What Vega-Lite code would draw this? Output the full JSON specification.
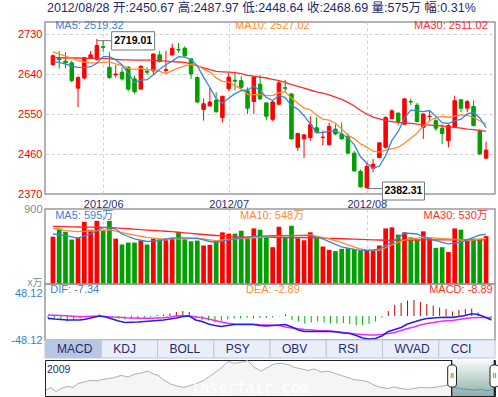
{
"$schema":"https://vega.github.io/schema/vega-lite/v6.json",
"padding":{"left":10,"top":1,"right":0,"bottom":1},
"background":"#ffffff",
"config":{
"font":"Liberation Sans, Noto Sans CJK SC",
"view":{"stroke":"#9a9a9a","strokeWidth":1.5},
"axis":{"domain":false,"ticks":false,"title":null,"labelFont":"Liberation Sans, Noto Sans CJK SC","labelFontSize":11,"labelPadding":3,"gridDash":[3,3],"gridColor":"#cfcfcf","gridWidth":1},
"text":{"font":"Liberation Sans, Noto Sans CJK SC"}
},
"datasets":{
"k":[
{"i":1,"o":2661,"h":2684,"l":2659,"c":2681,"v":568,"m5":2668,"m10":2690,"m30":2677,"vm5":600,"vm10":667,"vm30":691,"dif":-4.7,"dea":2,"hist":-5},
{"i":2,"o":2675,"h":2692,"l":2652,"c":2672,"v":667,"m5":2666,"m10":2685,"m30":2677,"vm5":590,"vm10":655,"vm30":690,"dif":-6,"dea":1.5,"hist":-5},
{"i":3,"o":2669,"h":2689,"l":2653,"c":2665,"v":628,"m5":2662,"m10":2680,"m30":2676,"vm5":580,"vm10":640,"vm30":688,"dif":-7,"dea":1,"hist":-6},
{"i":4,"o":2665,"h":2670,"l":2621,"c":2625,"v":533,"m5":2658,"m10":2675,"m30":2676,"vm5":565,"vm10":634,"vm30":686,"dif":-8,"dea":0.5,"hist":-11},
{"i":5,"o":2608,"h":2635,"l":2565,"c":2632,"v":560,"m5":2655,"m10":2670,"m30":2676,"vm5":550,"vm10":628,"vm30":684,"dif":-8,"dea":-0.5,"hist":-8},
{"i":6,"o":2631,"h":2678,"l":2628,"c":2677,"v":746,"m5":2654.2,"m10":2667,"m30":2675,"vm5":575,"vm10":632,"vm30":683,"dif":-8,"dea":-1.3,"hist":-5},
{"i":7,"o":2676,"h":2692,"l":2674,"c":2683,"v":651,"m5":2656.4,"m10":2665,"m30":2675,"vm5":600,"vm10":636,"vm30":682,"dif":-6,"dea":-1,"hist":-3},
{"i":8,"o":2673,"h":2719.01,"l":2670,"c":2704,"v":758,"m5":2664.2,"m10":2665,"m30":2675,"vm5":640,"vm10":640,"vm30":681,"dif":-3,"dea":-0.5,"hist":-2},
{"i":9,"o":2702,"h":2715,"l":2690,"c":2700,"v":639,"m5":2679.2,"m10":2666,"m30":2675,"vm5":679,"vm10":645,"vm30":680,"dif":0,"dea":0,"hist":3},
{"i":10,"o":2655,"h":2689,"l":2629,"c":2632,"v":758,"m5":2679.2,"m10":2667.1,"m30":2674,"vm5":670,"vm10":651,"vm30":679,"dif":-2,"dea":-1,"hist":-1},
{"i":11,"o":2638,"h":2660,"l":2632,"c":2640,"v":545,"m5":2671.8,"m10":2663,"m30":2673,"vm5":660,"vm10":635,"vm30":674,"dif":-6,"dea":-2,"hist":-3},
{"i":12,"o":2644,"h":2655,"l":2625,"c":2629,"v":474,"m5":2661,"m10":2658.7,"m30":2672,"vm5":600,"vm10":617,"vm30":668,"dif":-10,"dea":-2.7,"hist":-5},
{"i":13,"o":2655,"h":2658,"l":2602,"c":2606,"v":497,"m5":2641.4,"m10":2652.8,"m30":2672,"vm5":570,"vm10":600,"vm30":663,"dif":-13,"dea":-3.5,"hist":-7},
{"i":14,"o":2629,"h":2636,"l":2595,"c":2600,"v":497,"m5":2621.4,"m10":2650.3,"m30":2671,"vm5":541,"vm10":587,"vm30":658,"dif":-12.5,"dea":-4,"hist":-6},
{"i":15,"o":2606,"h":2660,"l":2605,"c":2657,"v":521,"m5":2626.4,"m10":2652.8,"m30":2671,"vm5":525,"vm10":573,"vm30":652,"dif":-12,"dea":-4.5,"hist":-5},
{"i":16,"o":2646,"h":2655,"l":2638,"c":2644,"v":474,"m5":2627.2,"m10":2649.5,"m30":2671,"vm5":510,"vm10":560,"vm30":647,"dif":-11,"dea":-4.7,"hist":-4},
{"i":17,"o":2647,"h":2686,"l":2638,"c":2685,"v":545,"m5":2638.4,"m10":2649.7,"m30":2671,"vm5":515,"vm10":550,"vm30":642,"dif":-10,"dea":-4.5,"hist":-2},
{"i":18,"o":2683,"h":2692,"l":2666,"c":2668,"v":537,"m5":2650.8,"m10":2646.1,"m30":2670,"vm5":521,"vm10":541,"vm30":638,"dif":-9,"dea":-4,"hist":2},
{"i":19,"o":2648,"h":2692,"l":2642,"c":2650,"v":525,"m5":2660.8,"m10":2641.1,"m30":2669,"vm5":537,"vm10":541,"vm30":633,"dif":-8,"dea":-3.3,"hist":3},
{"i":20,"o":2683,"h":2708,"l":2681,"c":2698,"v":553,"m5":2669,"m10":2647.7,"m30":2668,"vm5":553,"vm10":541,"vm30":628,"dif":-6,"dea":-2,"hist":5},
{"i":21,"o":2695,"h":2710,"l":2688,"c":2694,"v":624,"m5":2679,"m10":2653.1,"m30":2667,"vm5":553,"vm10":541,"vm30":621,"dif":-4,"dea":0,"hist":8},
{"i":22,"o":2698,"h":2702,"l":2678,"c":2681,"v":537,"m5":2678.2,"m10":2658.3,"m30":2666,"vm5":553,"vm10":541,"vm30":614,"dif":-1,"dea":0.7,"hist":10},
{"i":23,"o":2674,"h":2675,"l":2629,"c":2640,"v":513,"m5":2672.6,"m10":2661.7,"m30":2663,"vm5":550,"vm10":545,"vm30":607,"dif":0,"dea":0,"hist":8},
{"i":24,"o":2632,"h":2635,"l":2574,"c":2577,"v":521,"m5":2658,"m10":2659.4,"m30":2658,"vm5":547,"vm10":549,"vm30":600,"dif":-8,"dea":-1.5,"hist":-5},
{"i":25,"o":2560,"h":2585,"l":2535,"c":2573,"v":462,"m5":2633,"m10":2651,"m30":2654,"vm5":530,"vm10":540,"vm30":594,"dif":-11,"dea":-3.5,"hist":-8},
{"i":26,"o":2568,"h":2610,"l":2568,"c":2577,"v":470,"m5":2609.6,"m10":2644.3,"m30":2650,"vm5":510,"vm10":530,"vm30":588,"dif":-16,"dea":-6,"hist":-9},
{"i":27,"o":2581,"h":2599,"l":2553,"c":2555,"v":521,"m5":2584.4,"m10":2631.3,"m30":2646,"vm5":501,"vm10":521,"vm30":582,"dif":-19,"dea":-9,"hist":-13},
{"i":28,"o":2542,"h":2590,"l":2531,"c":2590,"v":620,"m5":2574.4,"m10":2623.5,"m30":2645,"vm5":515,"vm10":528,"vm30":577,"dif":-21,"dea":-12,"hist":-10},
{"i":29,"o":2607,"h":2642,"l":2602,"c":2633,"v":604,"m5":2585.6,"m10":2621.8,"m30":2644,"vm5":530,"vm10":535,"vm30":571,"dif":-19,"dea":-14.5,"hist":-7},
{"i":30,"o":2626,"h":2645,"l":2603,"c":2624,"v":604,"m5":2595.8,"m10":2614.4,"m30":2643,"vm5":541,"vm10":541,"vm30":565,"dif":-17,"dea":-16,"hist":-5},
{"i":31,"o":2625,"h":2635,"l":2602,"c":2610,"v":639,"m5":2602.4,"m10":2606,"m30":2641,"vm5":551,"vm10":546,"vm30":564,"dif":-17,"dea":-16.5,"hist":-5},
{"i":32,"o":2602,"h":2610,"l":2550,"c":2563,"v":560,"m5":2604,"m10":2594.2,"m30":2637,"vm5":562,"vm10":550,"vm30":563,"dif":-17,"dea":-16.5,"hist":-4},
{"i":33,"o":2578,"h":2635,"l":2550,"c":2633,"v":667,"m5":2612.6,"m10":2593.5,"m30":2635,"vm5":572,"vm10":555,"vm30":562,"dif":-17,"dea":-16.5,"hist":-5},
{"i":34,"o":2617,"h":2638,"l":2582,"c":2584,"v":651,"m5":2602.8,"m10":2594.2,"m30":2633,"vm5":575,"vm10":560,"vm30":562,"dif":-19,"dea":-17.5,"hist":-4},
{"i":35,"o":2575,"h":2576,"l":2536,"c":2545,"v":568,"m5":2587,"m10":2591.4,"m30":2631,"vm5":578,"vm10":565,"vm30":561,"dif":-20,"dea":-18,"hist":-4},
{"i":36,"o":2538,"h":2579,"l":2534,"c":2577,"v":442,"m5":2580.4,"m10":2591.4,"m30":2628,"vm5":580,"vm10":570,"vm30":560,"dif":-19,"dea":-18.5,"hist":-3},
{"i":37,"o":2572,"h":2625,"l":2570,"c":2620,"v":687,"m5":2591.8,"m10":2597.9,"m30":2625,"vm5":580,"vm10":575,"vm30":559,"dif":-18,"dea":-19,"hist":-1},
{"i":38,"o":2609,"h":2627,"l":2598,"c":2608,"v":560,"m5":2586.8,"m10":2599.7,"m30":2621,"vm5":580,"vm10":580,"vm30":558,"dif":-17,"dea":-22,"hist":3},
{"i":39,"o":2595,"h":2597,"l":2492,"c":2494,"v":699,"m5":2568.8,"m10":2585.8,"m30":2616,"vm5":580,"vm10":582,"vm30":557,"dif":-22,"dea":-24,"hist":-8},
{"i":40,"o":2475,"h":2508,"l":2467,"c":2506,"v":549,"m5":2561,"m10":2574,"m30":2612,"vm5":580,"vm10":584,"vm30":557,"dif":-28,"dea":-25.5,"hist":-11},
{"i":41,"o":2494,"h":2505,"l":2451,"c":2503,"v":525,"m5":2546.2,"m10":2563.3,"m30":2608,"vm5":580,"vm10":586,"vm30":556,"dif":-31,"dea":-27,"hist":-15},
{"i":42,"o":2497,"h":2545,"l":2490,"c":2526,"v":620,"m5":2527.4,"m10":2559.6,"m30":2604,"vm5":580,"vm10":588,"vm30":555,"dif":-31,"dea":-28,"hist":-13},
{"i":43,"o":2519,"h":2543,"l":2507,"c":2509,"v":568,"m5":2507.6,"m10":2547.2,"m30":2600,"vm5":560,"vm10":574,"vm30":553,"dif":-31,"dea":-29,"hist":-11},
{"i":44,"o":2497,"h":2513,"l":2479,"c":2498,"v":450,"m5":2508.4,"m10":2538.6,"m30":2597,"vm5":541,"vm10":560,"vm30":550,"dif":-31,"dea":-29.5,"hist":-13},
{"i":45,"o":2481,"h":2530,"l":2479,"c":2522,"v":410,"m5":2511.6,"m10":2536.3,"m30":2593,"vm5":508,"vm10":540,"vm30":548,"dif":-31,"dea":-30,"hist":-15},
{"i":46,"o":2516,"h":2527,"l":2502,"c":2505,"v":395,"m5":2512,"m10":2529.1,"m30":2588,"vm5":475,"vm10":520,"vm30":546,"dif":-32,"dea":-31.5,"hist":-15},
{"i":47,"o":2505,"h":2531,"l":2492,"c":2494,"v":422,"m5":2505.6,"m10":2516.5,"m30":2583,"vm5":446,"vm10":497,"vm30":543,"dif":-34,"dea":-33,"hist":-14},
{"i":48,"o":2500,"h":2507,"l":2460,"c":2462,"v":430,"m5":2496.2,"m10":2501.9,"m30":2576,"vm5":430,"vm10":470,"vm30":540,"dif":-35,"dea":-34.5,"hist":-16},
{"i":49,"o":2462,"h":2467,"l":2420,"c":2422,"v":422,"m5":2481,"m10":2494.7,"m30":2568,"vm5":415,"vm10":445,"vm30":538,"dif":-39,"dea":-36,"hist":-19},
{"i":50,"o":2421,"h":2425,"l":2385,"c":2386,"v":403,"m5":2453.8,"m10":2482.7,"m30":2558,"vm5":403,"vm10":420,"vm30":535,"dif":-44,"dea":-37,"hist":-18},
{"i":51,"o":2384,"h":2442,"l":2382.31,"c":2432,"v":403,"m5":2439.2,"m10":2475.6,"m30":2550,"vm5":405,"vm10":403,"vm30":533,"dif":-46,"dea":-38,"hist":-16},
{"i":52,"o":2428,"h":2449,"l":2419,"c":2437,"v":403,"m5":2427.8,"m10":2466.7,"m30":2543,"vm5":408,"vm10":403,"vm30":530,"dif":-45,"dea":-38,"hist":-11},
{"i":53,"o":2452,"h":2487,"l":2452,"c":2485,"v":462,"m5":2432.4,"m10":2464.3,"m30":2539,"vm5":420,"vm10":403,"vm30":528,"dif":-40,"dea":-37,"hist":-3},
{"i":54,"o":2475,"h":2545,"l":2472,"c":2542,"v":667,"m5":2456.4,"m10":2468.7,"m30":2535,"vm5":460,"vm10":435,"vm30":525,"dif":-31,"dea":-35,"hist":10},
{"i":55,"o":2540,"h":2561,"l":2538,"c":2557,"v":679,"m5":2490.6,"m10":2472.2,"m30":2533,"vm5":501,"vm10":470,"vm30":526,"dif":-27,"dea":-33,"hist":22},
{"i":56,"o":2552,"h":2554,"l":2524,"c":2533,"v":592,"m5":2510.8,"m10":2475,"m30":2531,"vm5":556,"vm10":500,"vm30":526,"dif":-23,"dea":-29,"hist":26},
{"i":57,"o":2527,"h":2586,"l":2525,"c":2584,"v":620,"m5":2540.2,"m10":2484,"m30":2530,"vm5":612,"vm10":529,"vm30":527,"dif":-16,"dea":-25,"hist":31},
{"i":58,"o":2578,"h":2585,"l":2570,"c":2577,"v":560,"m5":2558.6,"m10":2495.5,"m30":2529,"vm5":606,"vm10":540,"vm30":528,"dif":-12,"dea":-22,"hist":32},
{"i":59,"o":2570,"h":2575,"l":2531,"c":2533,"v":533,"m5":2556.8,"m10":2506.6,"m30":2527,"vm5":600,"vm10":550,"vm30":528,"dif":-8,"dea":-18,"hist":28},
{"i":60,"o":2520,"h":2552,"l":2494,"c":2550,"v":632,"m5":2555.4,"m10":2523,"m30":2526,"vm5":570,"vm10":560,"vm30":529,"dif":-5,"dea":-15,"hist":24},
{"i":61,"o":2544,"h":2557,"l":2535,"c":2545,"v":553,"m5":2557.8,"m10":2534.3,"m30":2525,"vm5":541,"vm10":555,"vm30":529,"dif":-4,"dea":-13,"hist":21},
{"i":62,"o":2535,"h":2540,"l":2512,"c":2518,"v":434,"m5":2544.6,"m10":2542.4,"m30":2524,"vm5":522,"vm10":550,"vm30":529,"dif":-3,"dea":-11,"hist":17},
{"i":63,"o":2518,"h":2527,"l":2482,"c":2506,"v":442,"m5":2530.4,"m10":2544.5,"m30":2523,"vm5":500,"vm10":545,"vm30":529,"dif":-2.7,"dea":-9.5,"hist":14},
{"i":64,"o":2490,"h":2527,"l":2475,"c":2524,"v":383,"m5":2528.6,"m10":2542.7,"m30":2521,"vm5":482,"vm10":541,"vm30":529,"dif":-2.7,"dea":-9,"hist":9},
{"i":65,"o":2520,"h":2591,"l":2518,"c":2580,"v":667,"m5":2534.6,"m10":2545,"m30":2520,"vm5":490,"vm10":535,"vm30":529,"dif":-1,"dea":-7,"hist":12},
{"i":66,"o":2582,"h":2584,"l":2554,"c":2563,"v":651,"m5":2538.2,"m10":2548,"m30":2518,"vm5":501,"vm10":528,"vm30":529,"dif":1,"dea":-5,"hist":14},
{"i":67,"o":2563,"h":2582,"l":2554,"c":2578,"v":541,"m5":2550.2,"m10":2547.4,"m30":2516,"vm5":530,"vm10":521,"vm30":530,"dif":4.5,"dea":-3.5,"hist":15},
{"i":68,"o":2567,"h":2580,"l":2522,"c":2524,"v":545,"m5":2553.8,"m10":2542.1,"m30":2515,"vm5":560,"vm10":530,"vm30":530,"dif":3,"dea":-3,"hist":7},
{"i":69,"o":2512,"h":2516,"l":2458,"c":2460,"v":540,"m5":2541,"m10":2534.8,"m30":2513,"vm5":588,"vm10":540,"vm30":530,"dif":-2,"dea":-2.8,"hist":-2},
{"i":70,"o":2450.67,"h":2487.97,"l":2448.64,"c":2468.69,"v":575,"m5":2519.32,"m10":2527.02,"m30":2511.02,"vm5":595,"vm10":548,"vm30":530,"dif":-7.34,"dea":-2.89,"hist":-8.89}
],
"nav":[{"d":1,"v":1911},{"d":6,"v":2049},{"d":11,"v":1825},{"d":16,"v":1997},{"d":23,"v":2118},{"d":28,"v":2049},{"d":33,"v":2256},{"d":39,"v":2343},{"d":46,"v":2429},{"d":53,"v":2394},{"d":56,"v":2464},{"d":63,"v":2515},{"d":69,"v":2567},{"d":76,"v":2688},{"d":83,"v":2602},{"d":89,"v":2740},{"d":96,"v":2809},{"d":103,"v":2913},{"d":108,"v":2774},{"d":113,"v":2688},{"d":119,"v":2429},{"d":126,"v":2222},{"d":133,"v":2118},{"d":139,"v":2049},{"d":146,"v":2170},{"d":153,"v":2291},{"d":159,"v":2429},{"d":166,"v":2688},{"d":173,"v":2947},{"d":179,"v":3206},{"d":183,"v":3431},{"d":189,"v":3327},{"d":196,"v":3379},{"d":203,"v":3465},{"d":209,"v":3120},{"d":216,"v":2913},{"d":223,"v":3120},{"d":229,"v":3292},{"d":236,"v":3327},{"d":243,"v":3258},{"d":249,"v":3120},{"d":256,"v":3033},{"d":263,"v":2947},{"d":269,"v":3033},{"d":276,"v":2861},{"d":283,"v":2913},{"d":289,"v":2809},{"d":296,"v":2688},{"d":303,"v":2567},{"d":309,"v":2464},{"d":316,"v":2429},{"d":323,"v":2343},{"d":329,"v":2170},{"d":336,"v":2049},{"d":343,"v":1997},{"d":349,"v":2084},{"d":356,"v":1997},{"d":363,"v":1945},{"d":369,"v":1997},{"d":376,"v":2049},{"d":383,"v":2032},{"d":389,"v":2049},{"d":396,"v":2118},{"d":403,"v":2170},{"d":409,"v":2049},{"d":416,"v":1980},{"d":423,"v":1945},{"d":429,"v":1911},{"d":436,"v":1945},{"d":443,"v":1876},{"d":448,"v":1945}]
},
"bounds":"flush",
"spacing":0,
"vconcat":[
{
"width":450,"height":172,
"title":{"text":"2012/08/28 开:2450.67 高:2487.97 低:2448.64 收:2468.69 量:575万 幅:0.31%","anchor":"start","frame":"group","fontSize":12.5,"fontWeight":"normal","color":"#1f2a6b","font":"Liberation Sans, Noto Sans CJK SC","offset":5.5,"dx":2},
"layer":[
{"data":{"name":"k"},"mark":{"type":"rule","strokeWidth":1},
"encoding":{
"x":{"field":"i","type":"quantitative","scale":{"domain":[0.533,70.623],"nice":false,"zero":false},"axis":{"values":[9,29,51],"labelExpr":"datum.value==9?'2012/06':(datum.value==29?'2012/07':'2012/08')","grid":true,"labelColor":"#1f3280","labelPadding":4}},
"y":{"field":"l","type":"quantitative","scale":{"domain":[2370,2757],"nice":false,"zero":false},"axis":{"values":[2370,2460,2550,2640,2730],"format":"d","labelColor":"#ff0000","gridColor":{"condition":{"test":"datum.value==2370","value":"transparent"},"value":"#cfcfcf"}}},
"y2":{"field":"h"},
"color":{"condition":{"test":"datum.c >= datum.o","value":"#ff0000"},"value":"#00a000"}}},
{"data":{"name":"k"},"mark":{"type":"bar","size":3.5,"strokeWidth":1},
"encoding":{"x":{"field":"i","type":"quantitative"},"y":{"field":"o","type":"quantitative"},"y2":{"field":"c"},
"color":{"condition":{"test":"datum.c >= datum.o","value":"#ff0000"},"value":"#00a000"},
"stroke":{"condition":{"test":"datum.c >= datum.o","value":"#ff0000"},"value":"#00a000"}}},
{"data":{"name":"k"},"mark":{"type":"line","color":"#ff2a2a","strokeWidth":1.3},"encoding":{"x":{"field":"i","type":"quantitative"},"y":{"field":"m30","type":"quantitative"}}},
{"data":{"name":"k"},"mark":{"type":"line","color":"#ff8c2e","strokeWidth":1.3},"encoding":{"x":{"field":"i","type":"quantitative"},"y":{"field":"m10","type":"quantitative"}}},
{"data":{"name":"k"},"mark":{"type":"line","color":"#3b87d6","strokeWidth":1.3},"encoding":{"x":{"field":"i","type":"quantitative"},"y":{"field":"m5","type":"quantitative"}}},
{"data":{"values":[{"i":1.36,"p":2748,"s":"MA5","t":"MA5: 2519.32"},{"i":30.02,"p":2748,"s":"MA10","t":"MA10: 2527.02"}]},
"mark":{"type":"text","align":"left","baseline":"middle","fontSize":11},
"encoding":{"x":{"field":"i","type":"quantitative"},"y":{"field":"p","type":"quantitative"},"text":{"field":"t"},"color":{"field":"s","type":"nominal","scale":{"domain":["MA5","MA10","MA30"],"range":["#3b82d1","#ff8a30","#ff2d2d"]},"legend":null}}},
{"data":{"values":[{"i":70.27,"p":2748,"s":"MA30","t":"MA30: 2511.02"}]},
"mark":{"type":"text","align":"right","baseline":"middle","fontSize":11},
"encoding":{"x":{"field":"i","type":"quantitative"},"y":{"field":"p","type":"quantitative"},"text":{"field":"t"},"color":{"field":"s","type":"nominal","legend":null}}},
{"data":{"values":[{"ia":8,"i0":10.35,"pl":2715},{"ia":51,"i0":53.49,"pl":2382.31}]},
"mark":{"type":"rule","color":"#777777","strokeWidth":1},
"encoding":{"x":{"field":"ia","type":"quantitative"},"x2":{"field":"i0"},"y":{"field":"pl","type":"quantitative"}}},
{"data":{"values":[{"i0":10.35,"i1":17.2,"p0":2694,"p1":2735.2},{"i0":53.49,"i1":60.19,"p0":2356.5,"p1":2397}]},
"mark":{"type":"rect","fill":"#ffffff","stroke":"#777777","strokeWidth":1},
"encoding":{"x":{"field":"i0","type":"quantitative"},"x2":{"field":"i1"},"y":{"field":"p0","type":"quantitative"},"y2":{"field":"p1"}}},
{"data":{"values":[{"ic":13.78,"pc":2714.6,"t":"2719.01"},{"ic":56.84,"pc":2376.7,"t":"2382.31"}]},
"mark":{"type":"text","align":"center","baseline":"middle","fontSize":10.5,"fontWeight":"bold","color":"#000000"},
"encoding":{"x":{"field":"ic","type":"quantitative"},"y":{"field":"pc","type":"quantitative"},"text":{"field":"t"}}}
]
},
{"width":450,"height":15,"view":{"stroke":null},"data":{"values":[{"a":0}]},"mark":{"type":"point","opacity":0},"encoding":{}},
{
"width":450,"height":75,
"layer":[
{"data":{"name":"k"},"mark":{"type":"bar","size":4.7},
"encoding":{
"x":{"field":"i","type":"quantitative","scale":{"domain":[0.533,70.623],"nice":false,"zero":false},"axis":{"values":[9,29,51],"labels":false,"grid":true}},
"y":{"field":"v","type":"quantitative","scale":{"domain":[0,900],"nice":false},"axis":{"values":[0,225,450,675,900],"labelExpr":"datum.value==0?'x万':datum.label","labelColor":"#888888","labelFontSize":{"condition":{"test":"datum.value==0","value":10},"value":11},"labelOffset":{"condition":{"test":"datum.value==0","value":-2},"value":0},"gridColor":{"condition":{"test":"datum.value==0||datum.value==900","value":"transparent"},"value":"#cfcfcf"}}},
"color":{"condition":{"test":"datum.c >= datum.o","value":"#ff0000"},"value":"#00a000"}}},
{"data":{"name":"k"},"mark":{"type":"line","color":"#ff2a2a","strokeWidth":1.3},"encoding":{"x":{"field":"i","type":"quantitative"},"y":{"field":"vm30","type":"quantitative"}}},
{"data":{"name":"k"},"mark":{"type":"line","color":"#ff8c2e","strokeWidth":1.3},"encoding":{"x":{"field":"i","type":"quantitative"},"y":{"field":"vm10","type":"quantitative"}}},
{"data":{"name":"k"},"mark":{"type":"line","color":"#3b87d6","strokeWidth":1.3},"encoding":{"x":{"field":"i","type":"quantitative"},"y":{"field":"vm5","type":"quantitative"}}},
{"data":{"values":[{"i":1.36,"q":816,"s":"MA5","t":"MA5: 595万"},{"i":30.8,"q":816,"s":"MA10","t":"MA10: 548万"}]},
"mark":{"type":"text","align":"left","baseline":"middle","fontSize":11},
"encoding":{"x":{"field":"i","type":"quantitative"},"y":{"field":"q","type":"quantitative"},"text":{"field":"t"},"color":{"field":"s","type":"nominal","scale":{"domain":["MA5","MA10","MA30"],"range":["#3b82d1","#ff8a30","#ff2d2d"]},"legend":null}}},
{"data":{"values":[{"i":70.27,"q":816,"s":"MA30","t":"MA30: 530万"}]},
"mark":{"type":"text","align":"right","baseline":"middle","fontSize":11},
"encoding":{"x":{"field":"i","type":"quantitative"},"y":{"field":"q","type":"quantitative"},"text":{"field":"t"},"color":{"field":"s","type":"nominal","legend":null}}}
]
},
{
"width":450,"height":56,
"layer":[
{"data":{"name":"k"},"mark":{"type":"rule","strokeWidth":1},
"encoding":{
"x":{"field":"i","type":"quantitative","scale":{"domain":[0.533,70.623],"nice":false,"zero":false},"axis":null},
"y":{"field":"hist","type":"quantitative","scale":{"domain":[-48.12,64.15],"nice":false,"zero":false},"axis":{"values":[-48.12,0,48.12],"labelExpr":"datum.value<0?'-48.12':(datum.value>0?'48.12':'0.00')","labelColor":"#2a88d0","labelOffset":{"condition":{"test":"datum.value>0","value":2},"value":0},"gridColor":{"condition":{"test":"datum.value==0","value":"#c4c4c4"},"value":"transparent"}}},
"y2":{"datum":0},
"color":{"condition":{"test":"datum.hist >= 0","value":"#c00000"},"value":"#00b000"}}},
{"data":{"name":"k"},"mark":{"type":"line","color":"#f02cf0","strokeWidth":1.5},"encoding":{"x":{"field":"i","type":"quantitative"},"y":{"field":"dea","type":"quantitative"}}},
{"data":{"name":"k"},"mark":{"type":"line","color":"#1f1ff0","strokeWidth":1.6},"encoding":{"x":{"field":"i","type":"quantitative"},"y":{"field":"dif","type":"quantitative"}}},
{"data":{"values":[{"i":1.36,"m":52,"s":"DIF","t":"DIF: -7.34"},{"i":31.84,"m":52,"s":"DEA","t":"DEA: -2.89"}]},
"mark":{"type":"text","align":"left","baseline":"middle","fontSize":11},
"encoding":{"x":{"field":"i","type":"quantitative"},"y":{"field":"m","type":"quantitative"},"text":{"field":"t"},"color":{"field":"s","type":"nominal","scale":{"domain":["DIF","DEA","MACD"],"range":["#2020f0","#f020f0","#b0502a"]},"legend":null}}},
{"data":{"values":[{"i":70.27,"m":52,"s":"MACD","t":"MACD: -8.89"}]},
"mark":{"type":"text","align":"right","baseline":"middle","fontSize":11},
"encoding":{"x":{"field":"i","type":"quantitative"},"y":{"field":"m","type":"quantitative"},"text":{"field":"t"},"color":{"field":"s","type":"nominal","legend":null}}}
]
},
{
"width":450,"height":18,
"view":{"stroke":null},
"data":{"values":[{"k0":0,"k1":1,"t":"MACD","sel":true},{"k0":1,"k1":2,"t":"KDJ","sel":false},{"k0":2,"k1":3,"t":"BOLL","sel":false},{"k0":3,"k1":4,"t":"PSY","sel":false},{"k0":4,"k1":5,"t":"OBV","sel":false},{"k0":5,"k1":6,"t":"RSI","sel":false},{"k0":6,"k1":7,"t":"WVAD","sel":false},{"k0":7,"k1":8,"t":"CCI","sel":false}]},
"layer":[
{"mark":{"type":"rect","stroke":"#bcc8dc","strokeWidth":1},
"encoding":{"x":{"field":"k0","type":"quantitative","scale":{"domain":[0,8],"nice":false,"zero":false},"axis":null},"x2":{"field":"k1"},
"color":{"condition":{"test":"datum.sel","value":"#b7c7e1"},"value":"#e9eef8"}}},
{"mark":{"type":"text","align":"left","baseline":"middle","dx":12,"fontSize":12,"color":"#1f2a6b"},
"encoding":{"x":{"field":"k0","type":"quantitative"},"text":{"field":"t"}}}
]
},
{"width":450,"height":2,"view":{"stroke":null},"data":{"values":[{"a":0}]},"mark":{"type":"point","opacity":0},"encoding":{}},
{
"width":450,"height":36,
"view":{"stroke":"#222222","strokeWidth":1},
"layer":[
{"data":{"name":"nav"},"mark":{"type":"area","color":"#f1f1f1","line":{"color":"#b0b0b0","strokeWidth":1}},
"encoding":{"x":{"field":"d","type":"quantitative","scale":{"domain":[0,450],"nice":false,"zero":false},"axis":null},"y":{"field":"v","type":"quantitative","scale":{"domain":[1600,3500],"nice":false,"zero":false},"axis":null},"y2":{"datum":1600}}},
{"data":{"values":[{"t":"laserfair.com","d":205,"v":2010}]},"mark":{"type":"text","font":"DejaVu Sans Mono","fontSize":15,"color":"#ffffff","align":"center","baseline":"middle"},
"encoding":{"x":{"field":"d","type":"quantitative"},"y":{"field":"v","type":"quantitative"},"text":{"field":"t"}}},
{"data":{"values":[{"a":406.7,"b":449.3}]},
"mark":{"type":"rect","fill":{"gradient":"linear","x1":0,"y1":0,"x2":0,"y2":1,"stops":[{"offset":0,"color":"#f7faf9"},{"offset":1,"color":"#8fb0a8"}]}},
"encoding":{"x":{"field":"a","type":"quantitative"},"x2":{"field":"b"},"y":{"datum":3500},"y2":{"datum":1600}}},
{"data":{"name":"nav"},"transform":[{"filter":"datum.d >= 403"}],"mark":{"type":"line","color":"#4f93cf","strokeWidth":1},
"encoding":{"x":{"field":"d","type":"quantitative"},"y":{"field":"v","type":"quantitative"}}},
{"data":{"values":[{"d":406.7},{"d":449.3}]},"mark":{"type":"rule","color":"#111111","strokeWidth":1.2},
"encoding":{"x":{"field":"d","type":"quantitative"},"y":{"datum":3500},"y2":{"datum":1600}}},
{"data":{"values":[{"a":402.7,"b":411.5,"v0":2075,"v1":3236},{"a":445,"b":453.8,"v0":2075,"v1":3236}]},
"mark":{"type":"rect","fill":"#ffffff","stroke":"#222222","strokeWidth":1,"cornerRadius":3},
"encoding":{"x":{"field":"a","type":"quantitative"},"x2":{"field":"b"},"y":{"field":"v0","type":"quantitative"},"y2":{"field":"v1"}}},
{"data":{"values":[{"d":407.1,"t":"II"},{"d":449.4,"t":"II"}]},
"mark":{"type":"text","fontSize":7,"color":"#444444","align":"center","baseline":"middle"},
"encoding":{"x":{"field":"d","type":"quantitative"},"y":{"datum":2655},"text":{"field":"t"}}},
{"data":{"values":[{"d":2,"v":2972,"t":"2009"}]},
"mark":{"type":"text","fontSize":10.5,"color":"#1f2a6b","align":"left","baseline":"middle"},
"encoding":{"x":{"field":"d","type":"quantitative"},"y":{"field":"v","type":"quantitative"},"text":{"field":"t"}}}
]
}
]
}
